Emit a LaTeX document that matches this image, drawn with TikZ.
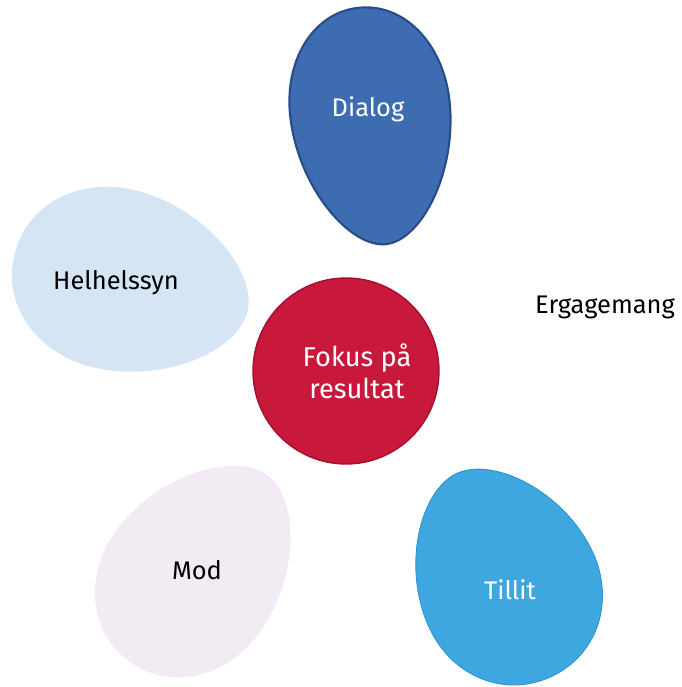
\documentclass[tikz,border=0pt]{standalone}
\usepackage{fontspec}
\setmainfont{Fira Sans}
\usepackage{xcolor}
\usepackage{tikz}

\definecolor{dialogblue}{HTML}{3D6DB0}
\definecolor{dialogedge}{HTML}{274C8A}
\definecolor{helhetblue}{HTML}{D5E5F3}
\definecolor{fokusred}{HTML}{C8183C}
\definecolor{fokusedge}{HTML}{A30F2F}
\definecolor{modlilac}{HTML}{F2EBF4}
\definecolor{tillitblue}{HTML}{3EA7DF}
\definecolor{tillitedge}{HTML}{2B93CF}

\tikzset{
  pics/egg/.style={code={
    \path[pic actions] (0,1) .. controls (0.58,1) and (1,0.62) .. (1,0.15)
      .. controls (1,-0.45) and (0.45,-1) .. (0,-1)
      .. controls (-0.45,-1) and (-1,-0.45) .. (-1,0.15)
      .. controls (-1,0.62) and (-0.58,1) .. (0,1) -- cycle;
  }}
}

\begin{document}
\begin{tikzpicture}[
  x=0.02cm, y=0.02cm,
  lbl/.style={font=\fontsize{14.5}{17}\selectfont, align=center, inner sep=0pt},
  disc/.style={circle, fill=fokusred, draw=fokusedge, line width=0.8pt,
    minimum size=3.72cm, inner sep=0pt}
]
\useasboundingbox (0,0) rectangle (681,687);

% eggs
\pic[fill=dialogblue, draw=dialogedge, line width=1.2pt,
  rotate=7, xscale=80, yscale=119] at (372,561) {egg};
\pic[fill=helhetblue, rotate=76, xscale=91, yscale=120] at (131,404) {egg};
\pic[fill=modlilac, rotate=143, xscale=88, yscale=116] at (198,119) {egg};
\pic[fill=tillitblue, draw=tillitedge, line width=0.5pt,
  rotate=205, xscale=90, yscale=112] at (504,112) {egg};

% center
\node[disc] (fokus) at (346,316) {};

% texts
\node[lbl, text=white] (dialog) at (368,578) {Dialog};
\node[lbl] (helhet) at (116,404) {Helhelssyn};
\node[lbl, text=white, font=\fontsize{15.5}{18}\selectfont] (resultat) at (357,316) {Fokus på\\resultat};
\node[lbl] (engage) at (605,380) {Ergagemang};
\node[lbl] (mod) at (197,117) {Mod};
\node[lbl, text=white] (tillit) at (510,97) {Tillit};
\end{tikzpicture}
\end{document}
